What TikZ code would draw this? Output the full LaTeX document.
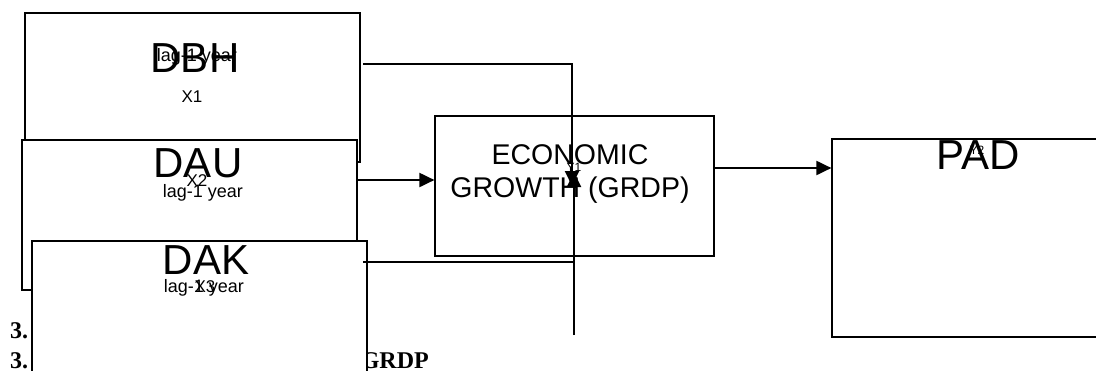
\documentclass[tikz,border=0pt]{standalone}
\usepackage{fontspec}
\setmainfont{Liberation Sans}
\newfontfamily\headfont{Liberation Serif}
\usetikzlibrary{positioning,arrows.meta}

\begin{document}
\begin{tikzpicture}[x=1pt,y=-1pt,
	box/.style={draw,fill=white,line width=1.2pt,inner sep=0pt},
	big/.style={font=\fontsize{42}{42}\selectfont,inner sep=0pt},
	mid/.style={font=\fontsize{28.5}{33}\selectfont,align=center,inner sep=0pt},
	lag/.style={font=\fontsize{18}{18}\selectfont,inner sep=0pt},
	tag/.style={font=\fontsize{17}{17}\selectfont,inner sep=0pt},
	wee/.style={font=\fontsize{12}{12}\selectfont,inner sep=0pt},
	head/.style={font=\headfont\bfseries\fontsize{24}{24}\selectfont,inner sep=0pt},
	link/.style={line width=2pt},
	rule/.style={line width=1.2pt},
	tip/.style={-{Triangle[length=15pt,width=14pt]}}]
	\useasboundingbox (0,0) rectangle (1096,370);
	% Lagged inputs
	\node[box,minimum width=335,minimum height=149] (dbh) at (192.5,87.5) {};
	\node[big] (dbhname) at (195,58) {DBH};
	\node[lag] (dbhlag) at (197,57) {lag-1 year};
	\node[tag] (x1) at (192,97) {X1};
	\node[box,minimum width=335,minimum height=150] (dau) at (189.5,215) {};
	\node[big] (dauname) at (198,163) {DAU};
	\node[tag] (x2) at (197,181) {X2};
	\node[lag] (daulag) at (203,193) {lag-1 year};
	% Headings behind the third box
	\node[head,anchor=base west] (headone) at (10,338) {3.};
	\node[head,anchor=base west] (headtwo) at (10,368) {3.};
	\node[head,anchor=base east] (headgrdp) at (429,368) {GRDP};
	\node[box,minimum width=335,minimum height=149] (dak) at (199.5,315.5) {};
	\node[big] (dakname) at (206,260) {DAK};
	\node[lag] (daklag) at (204,288) {lag-1 year};
	\node[tag] (x3) at (205,287) {X3};
	% Growth and outcome
	\node[box,minimum width=279,minimum height=140] (econ) at (574.5,186) {};
	\node[mid] (econname) at (570,174) {ECONOMIC\\GROWTH (GRDP)};
	\node[wee] (y1) at (574,167) {Y1};
	\node[box,minimum width=268,minimum height=198] (pad) at (966,238) {};
	\node[big] (padname) at (978,155) {PAD};
	\node[wee] (y2) at (977,150) {Y2};
	% Connectors
	\coordinate (dbhout) at (363,64);
	\coordinate (dauout) at (356,180);
	\coordinate (dakout) at (363,262);
	\coordinate (econout) at (714,168);
	\coordinate (meetdown) at (572,186);
	\coordinate (meetup) at (574,172);
	\coordinate (grdpin) at (574,335);
	\draw[link,tip] (dbhout) -| (meetdown);
	\draw[link,tip] (grdpin) -- (meetup);
	\draw[link,tip] (dauout) -- (dauout -| econ.west);
	\draw[rule] (dakout) -- (dakout -| grdpin);
	\draw[link,tip] (econout) -- (econout -| pad.west);
\end{tikzpicture}
\end{document}
